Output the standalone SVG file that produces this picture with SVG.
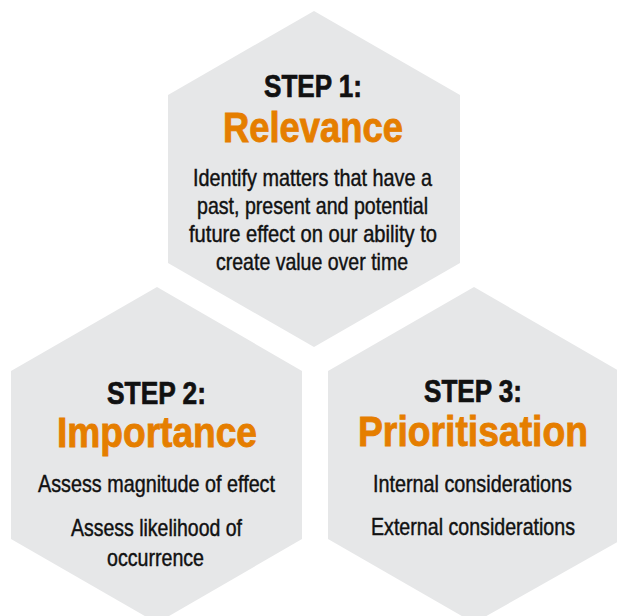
<svg xmlns="http://www.w3.org/2000/svg" width="617" height="616" viewBox="0 0 617 616">
<style>
.hex{fill:#e6e7e8}
text{font-family:"Liberation Sans",Arial,sans-serif;text-anchor:middle;fill:#111}
.step{font-size:30.5px;font-weight:bold;stroke:#111;stroke-width:0.7px}
.title{font-size:42px;font-weight:bold;fill:#e57e00;stroke:#e57e00;stroke-width:0.9px}
.body{font-size:24px;stroke:#111;stroke-width:0.45px}
</style>
<rect width="617" height="616" fill="#fff"/>
<g id="step1">
<polygon class="hex" points="314,11 460,95 460,263 314,347 168,263 168,95"/>
<text class="step" x="313" y="97" textLength="98" lengthAdjust="spacingAndGlyphs">STEP 1:</text>
<text class="title" x="313" y="142" textLength="180" lengthAdjust="spacingAndGlyphs">Relevance</text>
<text class="body" x="312.5" y="186" textLength="239" lengthAdjust="spacingAndGlyphs">Identify matters that have a</text>
<text class="body" x="312.5" y="214" textLength="231" lengthAdjust="spacingAndGlyphs">past, present and potential</text>
<text class="body" x="313" y="242" textLength="248" lengthAdjust="spacingAndGlyphs">future effect on our ability to</text>
<text class="body" x="312" y="270" textLength="192" lengthAdjust="spacingAndGlyphs">create value over time</text>
</g>
<g id="step2">
<polygon class="hex" points="157,287 302,371 302,539 157,623 11,539 11,371"/>
<text class="step" x="156.5" y="404" textLength="99" lengthAdjust="spacingAndGlyphs">STEP 2:</text>
<text class="title" x="157" y="447" textLength="200" lengthAdjust="spacingAndGlyphs">Importance</text>
<text class="body" x="156.5" y="492" textLength="237" lengthAdjust="spacingAndGlyphs">Assess magnitude of effect</text>
<text class="body" x="156.5" y="536" textLength="171" lengthAdjust="spacingAndGlyphs">Assess likelihood of</text>
<text class="body" x="155.5" y="566" textLength="97" lengthAdjust="spacingAndGlyphs">occurrence</text>
</g>
<g id="step3">
<polygon class="hex" points="474,287 619,371 619,541 474,623 328,539 328,371"/>
<text class="step" x="473" y="402" textLength="98" lengthAdjust="spacingAndGlyphs">STEP 3:</text>
<text class="title" x="473" y="446" textLength="230" lengthAdjust="spacingAndGlyphs">Prioritisation</text>
<text class="body" x="472.5" y="492" textLength="199" lengthAdjust="spacingAndGlyphs">Internal considerations</text>
<text class="body" x="473" y="535" textLength="204" lengthAdjust="spacingAndGlyphs">External considerations</text>
</g>
<g id="connectors"/>
</svg>
